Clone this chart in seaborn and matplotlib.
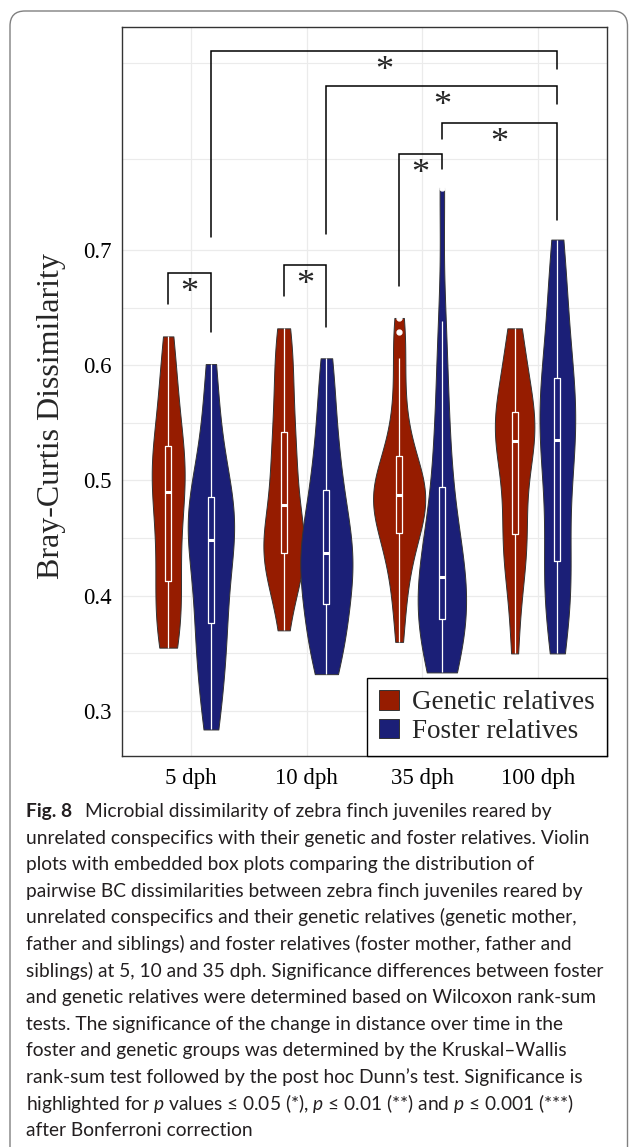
#!/usr/bin/env python3
# Violin + box plots of Bray-Curtis dissimilarity, genetic vs foster relatives

import numpy as np
import pandas as pd
import seaborn as sns
import matplotlib
matplotlib.use("Agg")
import matplotlib.pyplot as plt
from matplotlib.patches import FancyBboxPatch
from matplotlib.ticker import FixedLocator

sns.set_style("whitegrid")
plt.rcParams["font.family"] = ["Liberation Serif", "DejaVu Serif"]
plt.rcParams["mathtext.fontset"] = "custom"
plt.rcParams["mathtext.rm"] = "Lato"
plt.rcParams["mathtext.it"] = "Lato:italic"


AGES = ["5 dph", "10 dph", "35 dph", "100 dph"]
RELATIONS = ["Genetic relatives", "Foster relatives"]
COLORS = ["#961c00", "#1b1f77"]
# side-by-side shift of each relation within an age group (as in the original)
DODGE = [-0.20, 0.17]

GENETIC_5 = [0.355, 0.362, 0.375, 0.388, 0.400, 0.413, 0.430, 0.445, 0.460, 0.475, 0.490,
             0.497, 0.505, 0.512, 0.520, 0.530, 0.545, 0.562, 0.580, 0.600, 0.625]
FOSTER_5 = [0.284, 0.305, 0.330, 0.345, 0.360, 0.376, 0.390, 0.405, 0.420, 0.435, 0.448,
            0.455, 0.462, 0.468, 0.476, 0.486, 0.500, 0.515, 0.535, 0.565, 0.601]
GENETIC_10 = [0.370, 0.400, 0.418, 0.426, 0.432, 0.4375, 0.441, 0.445, 0.449, 0.455, 0.479,
              0.490, 0.502, 0.515, 0.530, 0.5425, 0.560, 0.580, 0.600, 0.618, 0.632]
FOSTER_10 = [0.332, 0.345, 0.358, 0.370, 0.382, 0.393, 0.405, 0.415, 0.423, 0.430, 0.437,
             0.445, 0.455, 0.466, 0.478, 0.492, 0.508, 0.525, 0.548, 0.575, 0.606]
GENETIC_35 = [0.360, 0.385, 0.405, 0.420, 0.432, 0.442, 0.449, 0.4545, 0.462, 0.468,
              0.473, 0.477, 0.480, 0.484, 0.487, 0.490, 0.493, 0.497, 0.501, 0.506,
              0.513, 0.5215, 0.530, 0.543, 0.560, 0.585, 0.606, 0.629, 0.641]
FOSTER_35 = [0.3335, 0.343, 0.352, 0.361, 0.370, 0.380, 0.388, 0.396, 0.403, 0.410, 0.416,
             0.426, 0.438, 0.452, 0.471, 0.494, 0.520, 0.550, 0.590, 0.638, 0.754]
GENETIC_100 = [0.350, 0.392, 0.420, 0.435, 0.445, 0.454, 0.470, 0.490, 0.508, 0.522, 0.534,
               0.538, 0.543, 0.548, 0.553, 0.5595, 0.572, 0.585, 0.600, 0.617, 0.632]
FOSTER_100 = [0.350, 0.375, 0.395, 0.410, 0.421, 0.430, 0.462, 0.490, 0.506, 0.520, 0.535,
              0.547, 0.558, 0.568, 0.578, 0.589, 0.610, 0.633, 0.657, 0.682, 0.709]

GENETIC = [GENETIC_5, GENETIC_10, GENETIC_35, GENETIC_100]
FOSTER = [FOSTER_5, FOSTER_10, FOSTER_35, FOSTER_100]

Y_TICKS = [0.3, 0.4, 0.5, 0.6, 0.7]
Y_MINOR = [0.35, 0.45, 0.55, 0.65, 0.779, 0.862]

# significance brackets: (age, relation) of each end, bar height, leg ends
BR_LEFT = [("5 dph", 0), ("10 dph", 0), ("35 dph", 0), ("35 dph", 1), ("10 dph", 1), ("5 dph", 1)]
BR_RIGHT = [("5 dph", 1), ("10 dph", 1), ("35 dph", 1), ("100 dph", 1), ("100 dph", 1), ("100 dph", 1)]
BR_TOP = [0.680, 0.687, 0.783, 0.810, 0.842, 0.873]
BR_LEFT_END = [0.653, 0.660, 0.669, 0.796, 0.714, 0.711]
BR_RIGHT_END = [0.629, 0.633, 0.770, 0.726, 0.827, 0.857]
BR_LABEL = ["*", "*", "*", "*", "*", "*"]

CAPTION = [
    "Microbial dissimilarity of zebra finch juveniles reared by",
    "unrelated conspecifics with their genetic and foster relatives. Violin",
    "plots with embedded box plots comparing the distribution of",
    "pairwise BC dissimilarities between zebra finch juveniles reared by",
    "unrelated conspecifics and their genetic relatives (genetic mother,",
    "father and siblings) and foster relatives (foster mother, father and",
    "siblings) at 5, 10 and 35 dph. Significance differences between foster",
    "and genetic relatives were determined based on Wilcoxon rank-sum",
    "tests. The significance of the change in distance over time in the",
    "foster and genetic groups was determined by the Kruskal\u2013Wallis",
    "rank-sum test followed by the post hoc Dunn\u2019s test. Significance is",
    "highlighted for $\\mathit{p}$ values \u2264 0.05 (*), $\\mathit{p}$ \u2264 0.01 (**) "
    "and $\\mathit{p}$ \u2264 0.001 (***)",
    "after Bonferroni correction",
]


def xpos(age, rel):
    return AGES.index(age) + DODGE[rel]


rows = []
for age, gen, fos in zip(AGES, GENETIC, FOSTER):
    rows += [(age, RELATIONS[0], xpos(age, 0), v) for v in gen]
    rows += [(age, RELATIONS[1], xpos(age, 1), v) for v in fos]
df = pd.DataFrame(rows, columns=["age", "relation", "pos", "dissimilarity"])

W, H = 629, 1147
fig = plt.figure(figsize=(W / 100, H / 100), dpi=100)
ax = fig.add_axes([122 / W, 1 - 756 / H, 485 / W, 729 / H])

# widths are relative to the closest pair of positions (0.37)
sns.violinplot(data=df, x="pos", y="dissimilarity", hue="relation", hue_order=RELATIONS,
               native_scale=True, dodge=False, palette=COLORS, saturation=1, cut=0,
               inner=None, density_norm="area", width=1.22, bw_adjust=0.8,
               linecolor="#333333", linewidth=0.7, ax=ax)
sns.boxplot(data=df, x="pos", y="dissimilarity", hue="relation", hue_order=RELATIONS,
            native_scale=True, dodge=False, palette=["white", "white"], fill=False,
            width=0.14, linewidth=0.9, showcaps=False, legend=False,
            medianprops=dict(linewidth=2.2),
            flierprops=dict(marker="o", markersize=3.5, markerfacecolor="white",
                            markeredgecolor="white"),
            ax=ax)

# brackets
for (la, lh), (ra, rh), top, lend, rend, lab in zip(BR_LEFT, BR_RIGHT, BR_TOP,
                                                     BR_LEFT_END, BR_RIGHT_END, BR_LABEL):
    x0 = xpos(la, lh)
    x1 = xpos(ra, rh)
    ax.plot([x0, x0, x1, x1], [lend, top, top, rend], color="black", lw=1.1,
            solid_joinstyle="miter", zorder=5)
    ax.annotate(lab, xy=((x0 + x1) / 2, top), xytext=(0, -3), textcoords="offset points",
                ha="center", va="top", fontsize=26, zorder=5)

ax.set_xlim(-0.6, 3.6)
ax.set_xticks(range(len(AGES)), AGES)
ax.set_ylim(0.261, 0.8934)
ax.set_yticks(Y_TICKS)
ax.yaxis.set_minor_locator(FixedLocator(Y_MINOR))
ax.set_axisbelow(True)
ax.grid(False)
ax.grid(which="major", axis="both", color="#ebebeb", lw=0.9)
ax.grid(which="minor", axis="y", color="#ebebeb", lw=0.8)
ax.tick_params(which="minor", length=0)
ax.tick_params(which="major", length=4, width=0.8, color="#333333", labelsize=16.5,
               labelcolor="black")
ax.tick_params(axis="y", pad=3.5)
ax.tick_params(axis="x", pad=4.5)
for s in ax.spines.values():
    s.set_color("#333333")
    s.set_linewidth(1.0)

ax.set_xlabel("")
ax.set_ylabel("Bray-Curtis Dissimilarity", fontsize=23)
ax.yaxis.set_label_coords(-0.115, 0.466)

handles, labels = ax.get_legend_handles_labels()
ax.legend(handles[:2], labels[:2], loc="lower right", frameon=True, fancybox=False,
          edgecolor="black", framealpha=1, borderaxespad=0, handlelength=0.72,
          handleheight=0.72, handletextpad=0.5, borderpad=0.45, labelspacing=0.12,
          prop=dict(family="Liberation Serif", size=19.5)).get_frame().set_linewidth(1.0)

# rounded frame around figure + caption
fig.patches.append(FancyBboxPatch((0.10, -0.5), 6.175, 11.86,
                                  boxstyle="round,pad=0,rounding_size=0.15",
                                  transform=fig.dpi_scale_trans, fill=False,
                                  ec="#808080", lw=1.0))

cap_font = dict(family=["Lato", "DejaVu Sans"], size=13.8, color="#231f20")
x_cap = 26 / W
base = 817
step = 26.6
fig_txt = fig.text(x_cap, 1 - base / H, "Fig. 8", va="baseline", ha="left",
                   fontweight="bold", **cap_font)
ax.annotate(CAPTION[0], xy=(1, 0), xycoords=fig_txt, xytext=(9.5, 0),
            textcoords="offset points", va="bottom", ha="left",
            annotation_clip=False, **cap_font)
for i, line in enumerate(CAPTION[1:], start=1):
    fig.text(x_cap, 1 - (base + i * step) / H, line, va="baseline", ha="left",
             **cap_font)

fig.savefig("out.png", dpi=100)
